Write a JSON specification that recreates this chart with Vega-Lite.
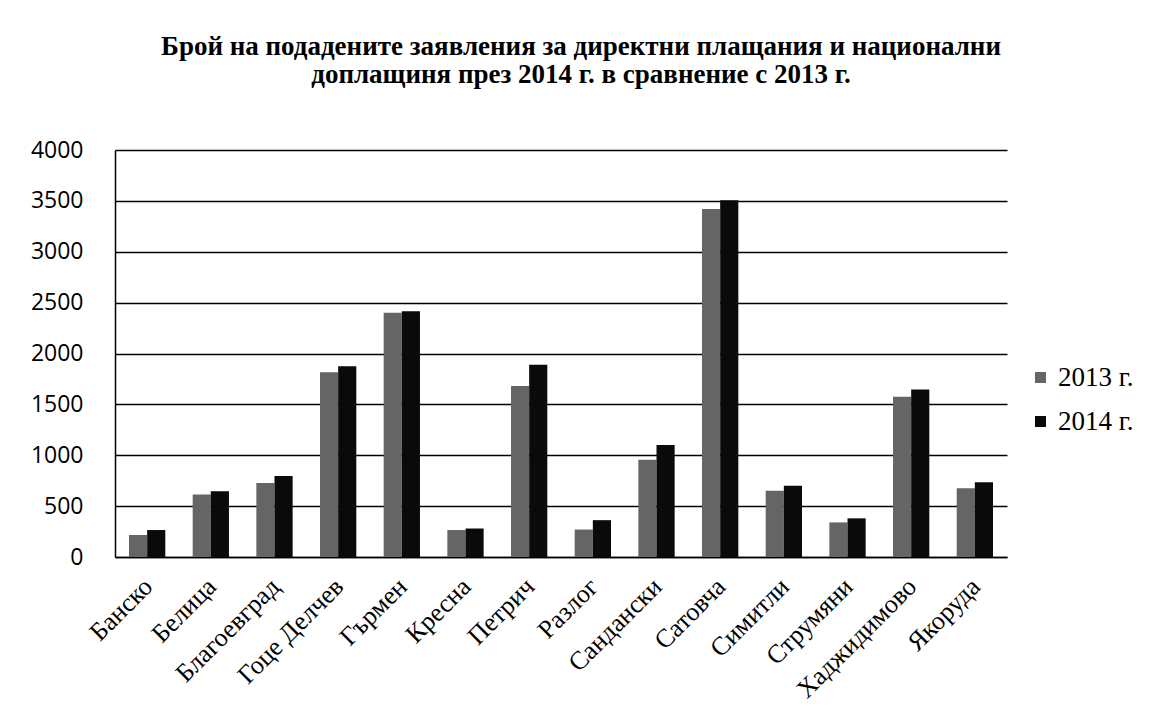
{
  "$schema": "https://vega.github.io/schema/vega-lite/v6.json",
  "width": 892,
  "height": 407,
  "autosize": {"type": "none"},
  "padding": {"left": 115, "top": 150, "right": 166, "bottom": 165},
  "background": "white",
  "title": {
    "text": ["Брой на подадените заявления за директни плащания и национални", "доплащиня през 2014 г. в сравнение с 2013 г."],
    "font": "Liberation Serif",
    "fontSize": 27,
    "fontWeight": "bold",
    "color": "black",
    "anchor": "middle",
    "dx": 20,
    "offset": 50,
    "lineHeight": 28
  },
  "data": {
    "values": [
      {"place": "Банско", "year": "2013 г.", "count": 216},
      {"place": "Банско", "year": "2014 г.", "count": 265},
      {"place": "Белица", "year": "2013 г.", "count": 615},
      {"place": "Белица", "year": "2014 г.", "count": 645},
      {"place": "Благоевград", "year": "2013 г.", "count": 728},
      {"place": "Благоевград", "year": "2014 г.", "count": 797},
      {"place": "Гоце Делчев", "year": "2013 г.", "count": 1815},
      {"place": "Гоце Делчев", "year": "2014 г.", "count": 1875},
      {"place": "Гърмен", "year": "2013 г.", "count": 2400},
      {"place": "Гърмен", "year": "2014 г.", "count": 2415},
      {"place": "Кресна", "year": "2013 г.", "count": 265},
      {"place": "Кресна", "year": "2014 г.", "count": 280},
      {"place": "Петрич", "year": "2013 г.", "count": 1680},
      {"place": "Петрич", "year": "2014 г.", "count": 1890},
      {"place": "Разлог", "year": "2013 г.", "count": 270},
      {"place": "Разлог", "year": "2014 г.", "count": 362},
      {"place": "Сандански", "year": "2013 г.", "count": 955},
      {"place": "Сандански", "year": "2014 г.", "count": 1100},
      {"place": "Сатовча", "year": "2013 г.", "count": 3420},
      {"place": "Сатовча", "year": "2014 г.", "count": 3505},
      {"place": "Симитли", "year": "2013 г.", "count": 652},
      {"place": "Симитли", "year": "2014 г.", "count": 700},
      {"place": "Струмяни", "year": "2013 г.", "count": 340},
      {"place": "Струмяни", "year": "2014 г.", "count": 380},
      {"place": "Хаджидимово", "year": "2013 г.", "count": 1575},
      {"place": "Хаджидимово", "year": "2014 г.", "count": 1645},
      {"place": "Якоруда", "year": "2013 г.", "count": 676},
      {"place": "Якоруда", "year": "2014 г.", "count": 735}
    ]
  },
  "mark": {"type": "bar"},
  "encoding": {
    "x": {
      "field": "place",
      "type": "nominal",
      "sort": null,
      "title": null,
      "scale": {"paddingInner": 0.43, "paddingOuter": 0.22},
      "axis": {
        "labelAngle": -45,
        "labelFont": "Liberation Serif",
        "labelFontSize": 26,
        "labelColor": "black",
        "labelPadding": 16,
        "labelOffset": -8,
        "ticks": false,
        "domainColor": "black",
        "domainWidth": 1.5
      }
    },
    "xOffset": {"field": "year", "type": "nominal", "scale": {"paddingInner": 0}},
    "y": {
      "field": "count",
      "type": "quantitative",
      "title": null,
      "scale": {"domain": [0, 4000]},
      "axis": {
        "values": [0, 500, 1000, 1500, 2000, 2500, 3000, 3500, 4000],
        "format": "d",
        "labelFont": "Open Sans",
        "labelFontSize": 23,
        "labelColor": "black",
        "labelPadding": 32,
        "ticks": false,
        "grid": true,
        "gridColor": "black",
        "gridWidth": 1.5,
        "gridOpacity": 1,
        "domainColor": "black",
        "domainWidth": 1.5
      }
    },
    "color": {
      "field": "year",
      "type": "nominal",
      "scale": {"domain": ["2013 г.", "2014 г."], "range": ["#656565", "#0a0a0a"]},
      "legend": {
        "title": null,
        "orient": "none",
        "legendX": 912,
        "legendY": 214,
        "symbolType": "square",
        "symbolSize": 120,
        "symbolStrokeWidth": 0,
        "labelFont": "Liberation Serif",
        "labelFontSize": 27,
        "labelColor": "black",
        "labelOffset": 4,
        "rowPadding": 16
      }
    }
  },
  "config": {
    "view": {"stroke": null}
  }
}
